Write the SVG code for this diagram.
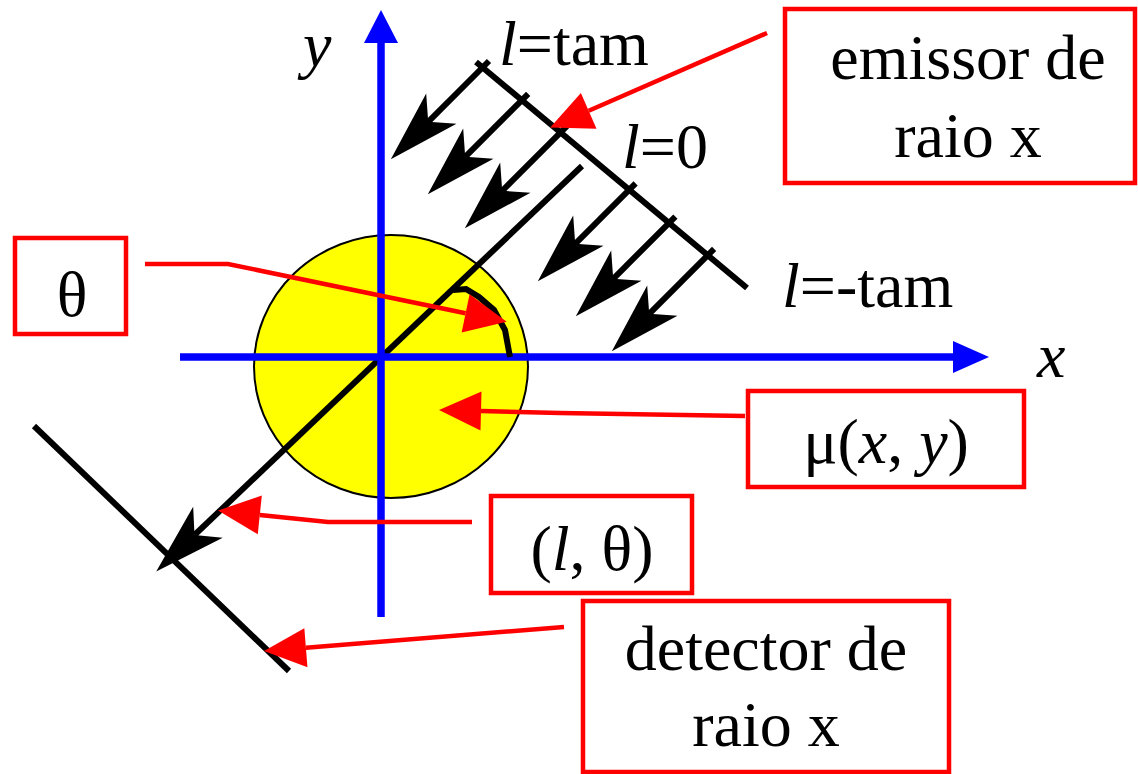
<svg xmlns="http://www.w3.org/2000/svg" width="1138" height="774" viewBox="0 0 1138 774">
<style>
  .box { fill: #fff; stroke: #ff0000; stroke-width: 4.5; }
  .red { fill: none; stroke: #ff0000; stroke-width: 4.5; marker-end: url(#redHead); }
  .blk { fill: none; stroke: #000; stroke-width: 6; }
  .ray { fill: none; stroke: #000; stroke-width: 6; marker-end: url(#blkHead); }
  .axis { stroke: #0000ff; stroke-width: 7.5; fill: none; }
</style>
<defs>
  <marker id="blkHead" markerUnits="userSpaceOnUse" orient="auto" refX="0" refY="0" markerWidth="100" markerHeight="100" viewBox="-20 -25 70 50" overflow="visible">
    <path d="M 37 0 L -13 -15 L 0 0 L -13 15 Z" fill="#000"/>
  </marker>
  <marker id="redHead" markerUnits="userSpaceOnUse" orient="auto" refX="0" refY="0" markerWidth="60" markerHeight="60" viewBox="-5 -20 40 40" overflow="visible">
    <path d="M 28 0 L 0 -13 L 0 13 Z" fill="#ff0000"/>
  </marker>
</defs>
<rect width="1138" height="774" fill="#fff"/>

<g id="object">
  <ellipse cx="391" cy="366.5" rx="137" ry="131.5" fill="#ffff00" stroke="#000" stroke-width="2"/>
</g>

<g id="emitter">
  <line class="blk" x1="476" y1="62" x2="747" y2="288"/>
  <path class="ray" d="M 489 61 L 428.2 121.8"/>
  <path class="ray" d="M 528.2 93.8 L 465.2 156.8"/>
  <path class="ray" d="M 566.9 126.1 L 502.2 190.8"/>
  <path class="ray" d="M 635.6 183.4 L 575.2 243.8"/>
  <path class="ray" d="M 675.4 216.6 L 613.2 278.8"/>
  <path class="ray" d="M 714.1 248.9 L 649.2 313.8"/>
</g>

<g id="detector">
  <line class="blk" x1="34" y1="426" x2="289" y2="671"/>
</g>

<g id="ray-l-theta">
  <path class="ray" d="M 582 166 L 194.5 535"/>
</g>

<g id="axes">
  <line class="axis" x1="381" y1="617" x2="381" y2="40"/>
  <polygon points="381,10 364,43 398,43" fill="#0000ff"/>
  <line class="axis" x1="180" y1="357" x2="956" y2="357"/>
  <polygon points="989,357 953,341 953,373" fill="#0000ff"/>
  <text font-family="Liberation Serif" font-size="64" font-style="italic" x="303" y="66">y</text>
  <text font-family="Liberation Serif" font-size="64" font-style="italic" x="1037" y="377">x</text>
</g>

<g id="theta-arc">
  <path class="blk" d="M 453 290 L 466 289 L 479 297 L 494 310 L 505 330 L 510 357"/>
</g>

<g id="l-labels">
  <text font-family="Liberation Serif" font-size="64" x="499" y="65"><tspan font-style="italic">l</tspan>=tam</text>
  <text font-family="Liberation Serif" font-size="64" x="622" y="168"><tspan font-style="italic">l</tspan>=0</text>
  <text font-family="Liberation Serif" font-size="64" x="782" y="307"><tspan font-style="italic">l</tspan>=-tam</text>
</g>

<g id="emitter-box">
  <rect class="box" x="785" y="9" width="350" height="174"/>
  <text font-family="Liberation Serif" font-size="64" x="968" y="79" text-anchor="middle">emissor de</text>
  <text font-family="Liberation Serif" font-size="64" x="968" y="157" text-anchor="middle">raio x</text>
</g>

<g id="theta-box">
  <rect class="box" x="15" y="238" width="111" height="96"/>
  <text font-family="Liberation Serif" font-size="64" x="72" y="316" text-anchor="middle">θ</text>
</g>

<g id="mu-box">
  <rect class="box" x="748" y="391" width="276" height="96"/>
  <text font-family="Liberation Serif" font-size="64" x="886" y="463" text-anchor="middle">μ(<tspan font-style="italic">x</tspan>, <tspan font-style="italic">y</tspan>)</text>
</g>

<g id="ltheta-box">
  <rect class="box" x="491" y="496" width="201" height="97"/>
  <text font-family="Liberation Serif" font-size="64" x="592" y="570" text-anchor="middle">(<tspan font-style="italic">l</tspan>, θ)</text>
</g>

<g id="detector-box">
  <rect class="box" x="583" y="601" width="366" height="171"/>
  <text font-family="Liberation Serif" font-size="64" x="766" y="670" text-anchor="middle">detector de</text>
  <text font-family="Liberation Serif" font-size="64" x="766" y="746" text-anchor="middle">raio x</text>
</g>

<g id="connectors">
  <path class="red" d="M 767 33 L 588.7 110.8"/>
  <path class="red" d="M 145 264 L 228 264 L 465.6 313.3"/>
  <path class="red" d="M 745 416 L 560 413 L 481 411"/>
  <path class="red" d="M 472 522 L 328 522 L 259.8 514.9"/>
  <path class="red" d="M 564 627 L 305.9 647.7"/>
</g>
</svg>
